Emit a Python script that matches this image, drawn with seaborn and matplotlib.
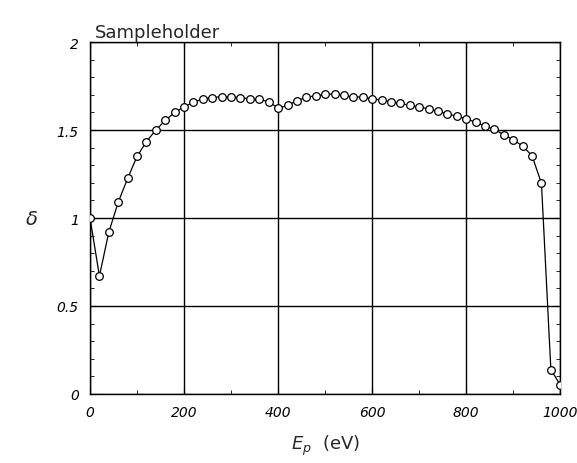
import numpy as np
import pandas as pd
import matplotlib
matplotlib.use("Agg")
import matplotlib.pyplot as plt
from matplotlib.ticker import MultipleLocator
import seaborn as sns

# data
energy = [0, 20, 40, 60, 80, 100, 120, 140, 160, 180,
          200, 220, 240, 260, 280, 300, 320, 340, 360, 380,
          400, 420, 440, 460, 480, 500, 520, 540, 560, 580,
          600, 620, 640, 660, 680, 700, 720, 740, 760, 780,
          800, 820, 840, 860, 880, 900, 920, 940, 960, 980, 1000]
delta = [1.00, 0.67, 0.92, 1.09, 1.225, 1.35, 1.435, 1.50, 1.555, 1.60,
         1.632, 1.658, 1.677, 1.685, 1.690, 1.689, 1.684, 1.678, 1.674, 1.661,
         1.625, 1.640, 1.667, 1.687, 1.695, 1.703, 1.705, 1.697, 1.688, 1.688,
         1.678, 1.670, 1.661, 1.652, 1.640, 1.631, 1.621, 1.606, 1.593, 1.578,
         1.564, 1.545, 1.523, 1.504, 1.473, 1.445, 1.409, 1.354, 1.197, 0.138, 0.051]

df = pd.DataFrame({"Ep": energy, "delta": delta})

sns.set_style("white")
plt.rcParams['font.family'] = ['DejaVu Sans']

fig = plt.figure(figsize=(5.77, 4.64), dpi=100)
ax = fig.add_axes([0.156, 0.149, 0.815, 0.758])

ax.grid(True, which='major', color='black', linewidth=1.0)
sns.lineplot(data=df, x="Ep", y="delta", ax=ax, color='black', linewidth=0.9,
             marker='o', markersize=5.5, markerfacecolor='white',
             markeredgecolor='black', markeredgewidth=0.9, zorder=3)

ax.set_xlim(0, 1000)
ax.set_ylim(0, 2)
ax.xaxis.set_major_locator(MultipleLocator(200))
ax.xaxis.set_minor_locator(MultipleLocator(100))
ax.yaxis.set_minor_locator(MultipleLocator(0.1))
ax.set_yticks([0, 0.5, 1, 1.5, 2])
ax.set_yticklabels(['0', '0.5', '1', '1.5', '2'])
ax.tick_params(which='both', direction='in', top=True, right=True,
               left=True, bottom=True, colors='black')
ax.tick_params(which='major', length=4, labelsize=10, pad=8)
ax.tick_params(which='minor', length=3)
for lab in ax.get_xticklabels() + ax.get_yticklabels():
    lab.set_style('italic')
for sp in ax.spines.values():
    sp.set_color('black')
    sp.set_linewidth(1.0)

ax.set_xlabel(r"$E_p$  (eV)", fontsize=13, labelpad=10)
ax.set_ylabel(r"$\delta$", fontsize=14, rotation=0, labelpad=18, va='center')
ax.set_title("Sampleholder", loc='left', fontsize=13, pad=4, x=0.01)

fig.savefig("out.png", dpi=100)
